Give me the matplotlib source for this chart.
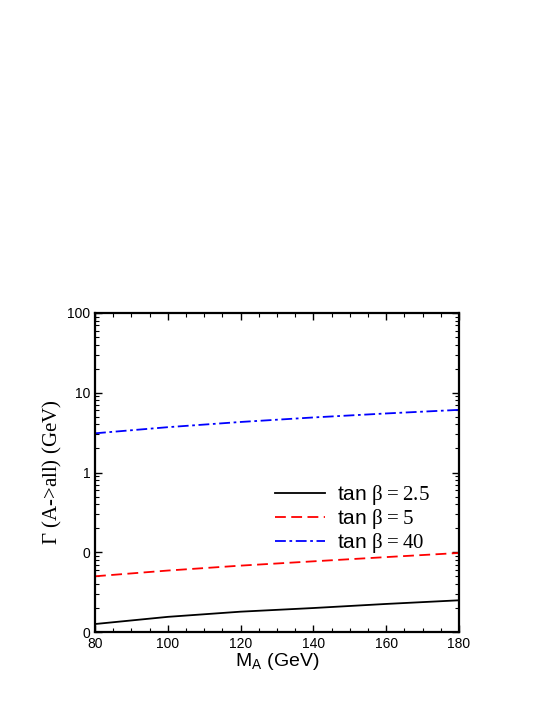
import numpy as np
import matplotlib
matplotlib.use('Agg')
import matplotlib.pyplot as plt
from matplotlib.ticker import LogLocator, FixedLocator, MultipleLocator

plt.rcParams['font.family'] = 'Liberation Sans'
plt.rcParams['mathtext.fontset'] = 'custom'
plt.rcParams['mathtext.rm'] = 'Liberation Serif'
plt.rcParams['mathtext.sf'] = 'Liberation Sans'

# data
mass = [80, 100, 120, 140, 160, 180]
width_tb25 = [0.0126, 0.0155, 0.018, 0.020, 0.0225, 0.025]
width_tb5 = [0.050, 0.059, 0.068, 0.077, 0.087, 0.098]
width_tb40 = [3.1, 3.7, 4.3, 4.9, 5.5, 6.1]

ytick_vals = [0.01, 0.1, 1, 10, 100]
ytick_labels = ['0', '0', '1', '10', '100']

fig = plt.figure(figsize=(5.54, 7.17), dpi=100)
ax = fig.add_axes([0.1715, 0.1185, 0.657, 0.445])

ax.plot(mass, width_tb25, color='black', lw=1.3, label=r'tan $\mathrm{\beta = 2.5}$')
ax.plot(mass, width_tb5, color='red', lw=1.3, dashes=(6, 3), label=r'tan $\mathrm{\beta = 5}$')
ax.plot(mass, width_tb40, color='blue', lw=1.3, dashes=(6, 2, 1.5, 2), label=r'tan $\mathrm{\beta = 40}$')

ax.set_yscale('log')
ax.set_xlim(80, 180)
ax.set_ylim(0.01, 100)
ax.xaxis.set_major_locator(MultipleLocator(20))
ax.xaxis.set_minor_locator(MultipleLocator(5))
ax.yaxis.set_major_locator(FixedLocator(ytick_vals))
ax.set_yticklabels(ytick_labels)
ax.yaxis.set_minor_locator(LogLocator(base=10, subs=np.arange(2, 10)))

ax.tick_params(which='both', direction='in', top=True, right=True, labelsize=10)
ax.tick_params(which='major', length=5, width=1)
ax.tick_params(which='minor', length=3, width=0.8)
for s in ax.spines.values():
    s.set_linewidth(1.6)

ax.set_xlabel(r'M$_\mathsf{A}$ (GeV)', fontsize=14, labelpad=0)
ax.set_ylabel(r'$\mathrm{\Gamma}$ (A->all) (GeV)', family='Liberation Serif', fontsize=15, labelpad=2)

ax.legend(frameon=False, loc='upper left', bbox_to_anchor=(0.442, 0.525),
          fontsize=15, handlelength=2.4, labelspacing=0.0, handletextpad=0.6)

fig.savefig('out.png', dpi=100)
